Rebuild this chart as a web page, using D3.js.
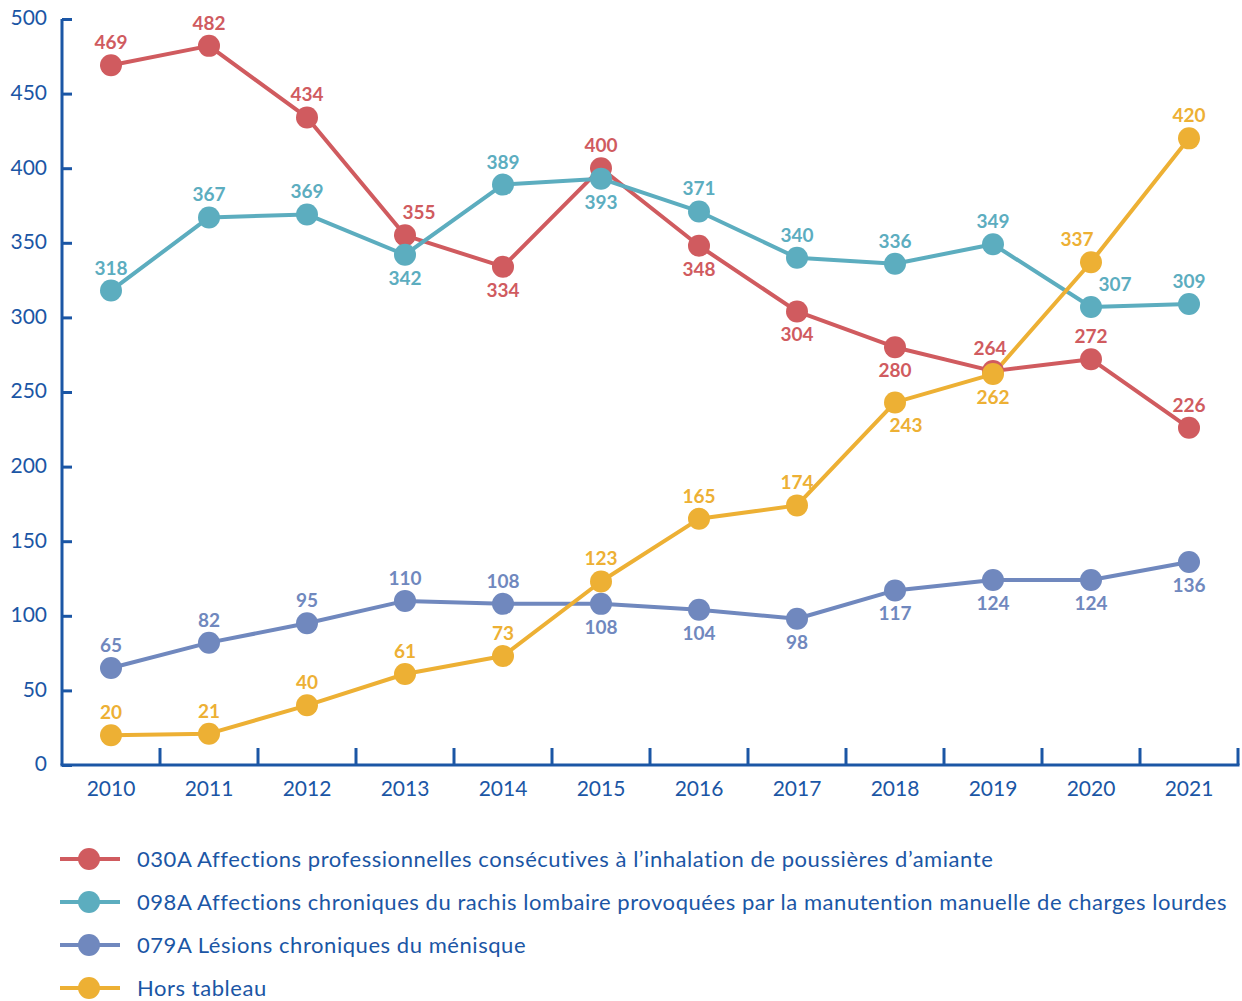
<!DOCTYPE html>
<html>
<head>
<meta charset="utf-8">
<script src="https://cdn.jsdelivr.net/npm/d3@7"></script>
<style>
  html, body { margin: 0; padding: 0; background: #fff; }
  svg { display: block; font-family: Lato, "Noto Sans", sans-serif; }
</style>
</head>
<body>
<svg id="chart" width="1242" height="1001"></svg>
<script>
// Years on the horizontal axis
const years = ["2010","2011","2012","2013","2014","2015","2016","2017","2018","2019","2020","2021"];

// Yearly counts per category
const amiante   = [469, 482, 434, 355, 334, 400, 348, 304, 280, 264, 272, 226];
const rachis    = [318, 367, 369, 342, 389, 393, 371, 340, 336, 349, 307, 309];
const menisque  = [65, 82, 95, 110, 108, 108, 104, 98, 117, 124, 124, 136];
const horsTab   = [20, 21, 40, 61, 73, 123, 165, 174, 243, 262, 337, 420];

// Series names (legend)
const seriesNames = [
  "030A Affections professionnelles consécutives à l’inhalation de poussières d’amiante",
  "098A Affections chroniques du rachis lombaire provoquées par la manutention manuelle de charges lourdes",
  "079A Lésions chroniques du ménisque",
  "Hors tableau"
];

// Y-axis tick values
const yTicks = [0, 50, 100, 150, 200, 250, 300, 350, 400, 450, 500];

// Where each value label sits relative to its marker: "a" above, "b" below
const labelSide = [
  ["a","a","a","a","b","a","b","b","b","a","a","a"],
  ["a","a","a","b","a","b","a","a","a","a","a","a"],
  ["a","a","a","a","a","b","b","b","b","b","b","b"],
  ["a","a","a","a","a","a","a","a","b","b","a","a"]
];
// Small horizontal nudges for crowded labels (series index, year index, dx)
const labelNudge = [[0, 3, 14], [1, 10, 24], [3, 10, -14], [3, 8, 11], [0, 9, -3]];

const colors = ["#D05B5F", "#5CADBF", "#7088BE", "#EDB034"];
const axisColor = "#1B56A5";
const textColor = "#1B56A5";

const series = [amiante, rachis, menisque, horsTab].map((vals, i) => ({
  name: seriesNames[i], values: vals, color: colors[i], idx: i
}));

const svg = d3.select("#chart");
const plotLeft = 62, plotRight = 1238, plotTop = 19, plotBottom = 765;

const x = d3.scaleBand().domain(years).range([plotLeft, plotRight]);
const y = d3.scaleLinear().domain([0, 500]).range([plotBottom, plotTop]);

// Y axis: line with inward ticks
const yAxis = svg.append("g").attr("transform", `translate(${plotLeft},0)`)
  .call(d3.axisRight(y).tickValues(yTicks).tickSize(10).tickFormat(""));
yAxis.select(".domain").attr("d", `M0,${plotBottom}V${plotTop}`);
yAxis.selectAll("path, line").attr("stroke", axisColor).attr("stroke-width", 3);

svg.append("g").selectAll("text").data(yTicks).join("text")
  .attr("x", 47).attr("y", d => y(d) - 1).attr("dy", "0.35em")
  .attr("text-anchor", "end").attr("fill", textColor)
  .attr("font-size", 21).text(d => d);

// X axis: baseline with upward ticks at band boundaries
const bounds = years.map(yr => x(yr)).concat([plotRight]).slice(1);
svg.append("line").attr("x1", plotLeft - 1.5).attr("x2", plotRight + 1.5)
  .attr("y1", plotBottom).attr("y2", plotBottom)
  .attr("stroke", axisColor).attr("stroke-width", 3);
svg.append("g").selectAll("line").data(bounds).join("line")
  .attr("x1", d => d).attr("x2", d => d)
  .attr("y1", plotBottom).attr("y2", plotBottom - 17)
  .attr("stroke", axisColor).attr("stroke-width", 3);
svg.append("g").selectAll("text").data(years).join("text")
  .attr("x", d => x(d) + x.bandwidth() / 2).attr("y", 796)
  .attr("text-anchor", "middle").attr("fill", textColor)
  .attr("font-size", 21).text(d => d);

const cx = i => x(years[i]) + x.bandwidth() / 2;

const line = d3.line().x((d, i) => cx(i)).y(d => y(d));

// Lines
svg.append("g").selectAll("path").data(series).join("path")
  .attr("d", s => line(s.values))
  .attr("fill", "none").attr("stroke", s => s.color)
  .attr("stroke-width", 4).attr("stroke-linejoin", "round");

// Markers
series.forEach(s => {
  svg.append("g").selectAll("circle").data(s.values).join("circle")
    .attr("cx", (d, i) => cx(i)).attr("cy", d => y(d)).attr("r", 11)
    .attr("fill", s.color);
});

// Value labels
series.forEach(s => {
  svg.append("g").selectAll("text").data(s.values).join("text")
    .attr("x", (d, i) => {
      const n = labelNudge.find(k => k[0] === s.idx && k[1] === i);
      return cx(i) + (n ? n[2] : 0);
    })
    .attr("y", (d, i) => labelSide[s.idx][i] === "a" ? y(d) - 16 : y(d) + 30)
    .attr("text-anchor", "middle").attr("fill", s.color)
    .attr("font-size", 19).attr("font-weight", 700).text(d => d);
});

// Legend
const legend = svg.append("g");
series.forEach((s, i) => {
  const ly = 859 + i * 43;
  legend.append("line").attr("x1", 60).attr("x2", 120).attr("y1", ly).attr("y2", ly)
    .attr("stroke", s.color).attr("stroke-width", 4);
  legend.append("circle").attr("cx", 89).attr("cy", ly).attr("r", 11).attr("fill", s.color);
  legend.append("text").attr("x", 137).attr("y", ly).attr("dy", "0.35em")
    .attr("fill", textColor).attr("font-size", 22).attr("letter-spacing", 0.55)
    .text(s.name);
});
</script>
</body>
</html>
